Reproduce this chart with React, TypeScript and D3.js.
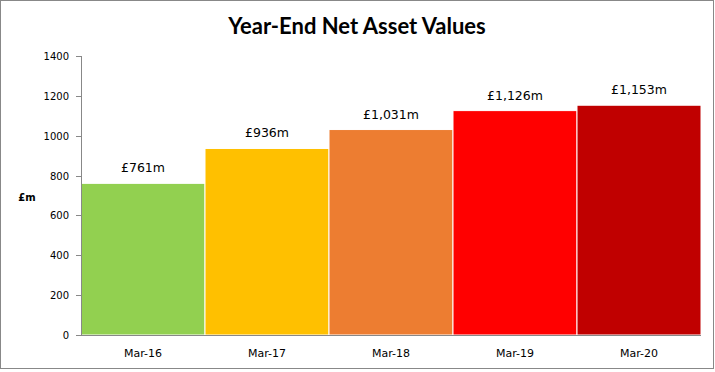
import * as d3 from 'd3'

const categories = ['Mar-16', 'Mar-17', 'Mar-18', 'Mar-19', 'Mar-20']
const values = [761, 936, 1031, 1126, 1153]
const valueLabels = ['£761m', '£936m', '£1,031m', '£1,126m', '£1,153m']
const colors = ['#92D050', '#FFC000', '#ED7D31', '#FF0000', '#C00000']
const yTicks = [0, 200, 400, 600, 800, 1000, 1200, 1400]

function App() {
  const width = 715
  const height = 372
  const margin = { top: 56, right: 14, bottom: 37, left: 81 }

  const x = d3.scaleBand()
    .domain(categories)
    .range([margin.left, width - margin.right])
    .padding(0)

  const y = d3.scaleLinear()
    .domain([0, 1400])
    .range([height - margin.bottom, margin.top])

  const font = '"DejaVu Sans", Verdana, sans-serif'

  return (
    <svg width={width} height={height} style={{ position: 'absolute', left: 0, top: 0 }}>
      <rect x={0.5} y={0.5} width={713} height={368} fill="#fff" stroke="#888" />
      <text x={357} y={34} textAnchor="middle" fontFamily="Lato, sans-serif" fontWeight="bold" fontSize={22} fill="#000">
        Year-End Net Asset Values
      </text>

      {categories.map((c, i) => (
        <rect key={c} x={x(c)} y={y(values[i])} width={x.bandwidth()} height={y(0) - y(values[i])}
          fill={colors[i]} stroke="#fff" strokeWidth={1} />
      ))}

      {/* y axis */}
      <line x1={margin.left + 0.5} x2={margin.left + 0.5} y1={y(1400)} y2={y(0)} stroke="#888" />
      {yTicks.map(t => (
        <g key={t}>
          <line x1={margin.left - 5} x2={margin.left} y1={Math.round(y(t)) + 0.5} y2={Math.round(y(t)) + 0.5} stroke="#888" />
          <text x={margin.left - 12} y={y(t) + 4} textAnchor="end" fontFamily={font} fontSize={10} fill="#000">{t}</text>
        </g>
      ))}
      <text x={27} y={201} textAnchor="middle" fontFamily={font} fontWeight="bold" fontSize={10} fill="#000">£m</text>

      {/* x axis */}
      <line x1={margin.left - 5} x2={width - margin.right} y1={Math.round(y(0)) + 0.5} y2={Math.round(y(0)) + 0.5} stroke="#888" />
      {categories.map(c => (
        <text key={c} x={(x(c) ?? 0) + x.bandwidth() / 2} y={357} textAnchor="middle" fontFamily={font} fontSize={11} fill="#000">{c}</text>
      ))}

      {categories.map((c, i) => (
        <text key={c} x={(x(c) ?? 0) + x.bandwidth() / 2} y={y(values[i]) - 11} textAnchor="middle" fontFamily={font} fontSize={12.5} fill="#000">
          {valueLabels[i]}
        </text>
      ))}
    </svg>
  )
}

export default App
